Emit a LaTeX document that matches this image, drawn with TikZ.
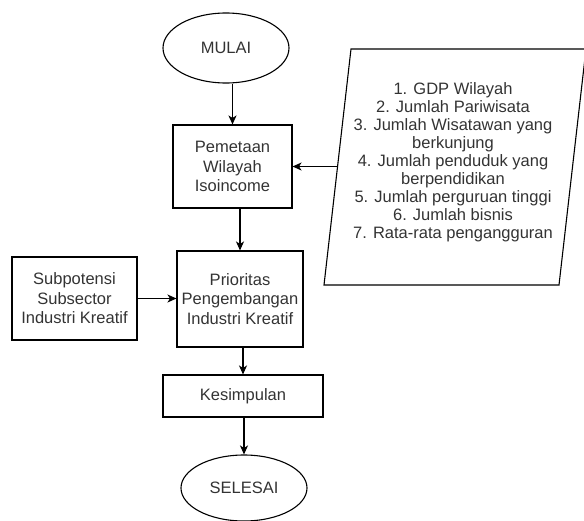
\documentclass[tikz,border=0pt]{standalone}
\usepackage{fontspec}
\setmainfont{Liberation Sans}
\usetikzlibrary{shapes.geometric,arrows.meta}
\definecolor{txt}{HTML}{333333}
\tikzset{
  x=1pt,y=-1pt,
  every node/.style={font=\fontsize{16.5}{19.5}\selectfont, text=txt, align=center, inner sep=0pt},
  boxnode/.style={draw=black, line width=1.1pt, rectangle},
  ovalnode/.style={draw=black, line width=1.1pt, ellipse},
  flow/.style={draw=black, line width=1.1pt, -{Stealth[length=9pt,width=8pt,inset=2.5pt]}},
}
\begin{document}
\begin{tikzpicture}
\useasboundingbox (0,0) rectangle (584,520);
\clip (0,0) rectangle (584,520);

\node[ovalnode, minimum width=126pt, minimum height=70pt] (mulai) at (226,48) {MULAI};
\node[boxnode, minimum width=119pt, minimum height=83pt] (pemetaan) at (232.5,166.5) {Pemetaan\\Wilayah\\Isoincome};
\node[boxnode, minimum width=126pt, minimum height=96pt] (prioritas) at (240,299) {Prioritas\\Pengembangan\\Industri Kreatif};
\node[boxnode, minimum width=125pt, minimum height=83pt] (subpotensi) at (74.5,298.5) {Subpotensi\\Subsector\\Industri Kreatif};
\node[boxnode, minimum width=160pt, minimum height=42pt] (kesimpulan) at (243,396) {Kesimpulan};
\node[ovalnode, minimum width=126pt, minimum height=66pt] (selesai) at (244,488) {SELESAI};

% parallelogram
\draw[line width=1.1pt, draw=black] (351,49) -- (586,49) -- (559,285) -- (324,285) -- cycle;
\node[font=\fontsize{16.5}{18}\selectfont] (params) at (453,162) {1. GDP Wilayah\\2. Jumlah Pariwisata\\3. Jumlah Wisatawan yang\\berkunjung\\4. Jumlah penduduk yang\\berpendidikan\\5. Jumlah perguruan tinggi\\6. Jumlah bisnis\\7. Rata-rata pengangguran};
\coordinate (pin) at (337.5,166.5);

\draw[flow] (pemetaan.north |- mulai.south) -- (pemetaan.north);
\draw[flow] (pin) -- (pemetaan.east);
\draw[flow] (prioritas.north |- pemetaan.south) -- (prioritas.north);
\draw[flow] (subpotensi.east) -- (subpotensi.east -| prioritas.west);
\draw[flow] (kesimpulan.north |- prioritas.south) -- (kesimpulan.north);
\draw[flow] (selesai.north |- kesimpulan.south) -- (selesai.north);
\end{tikzpicture}
\end{document}
